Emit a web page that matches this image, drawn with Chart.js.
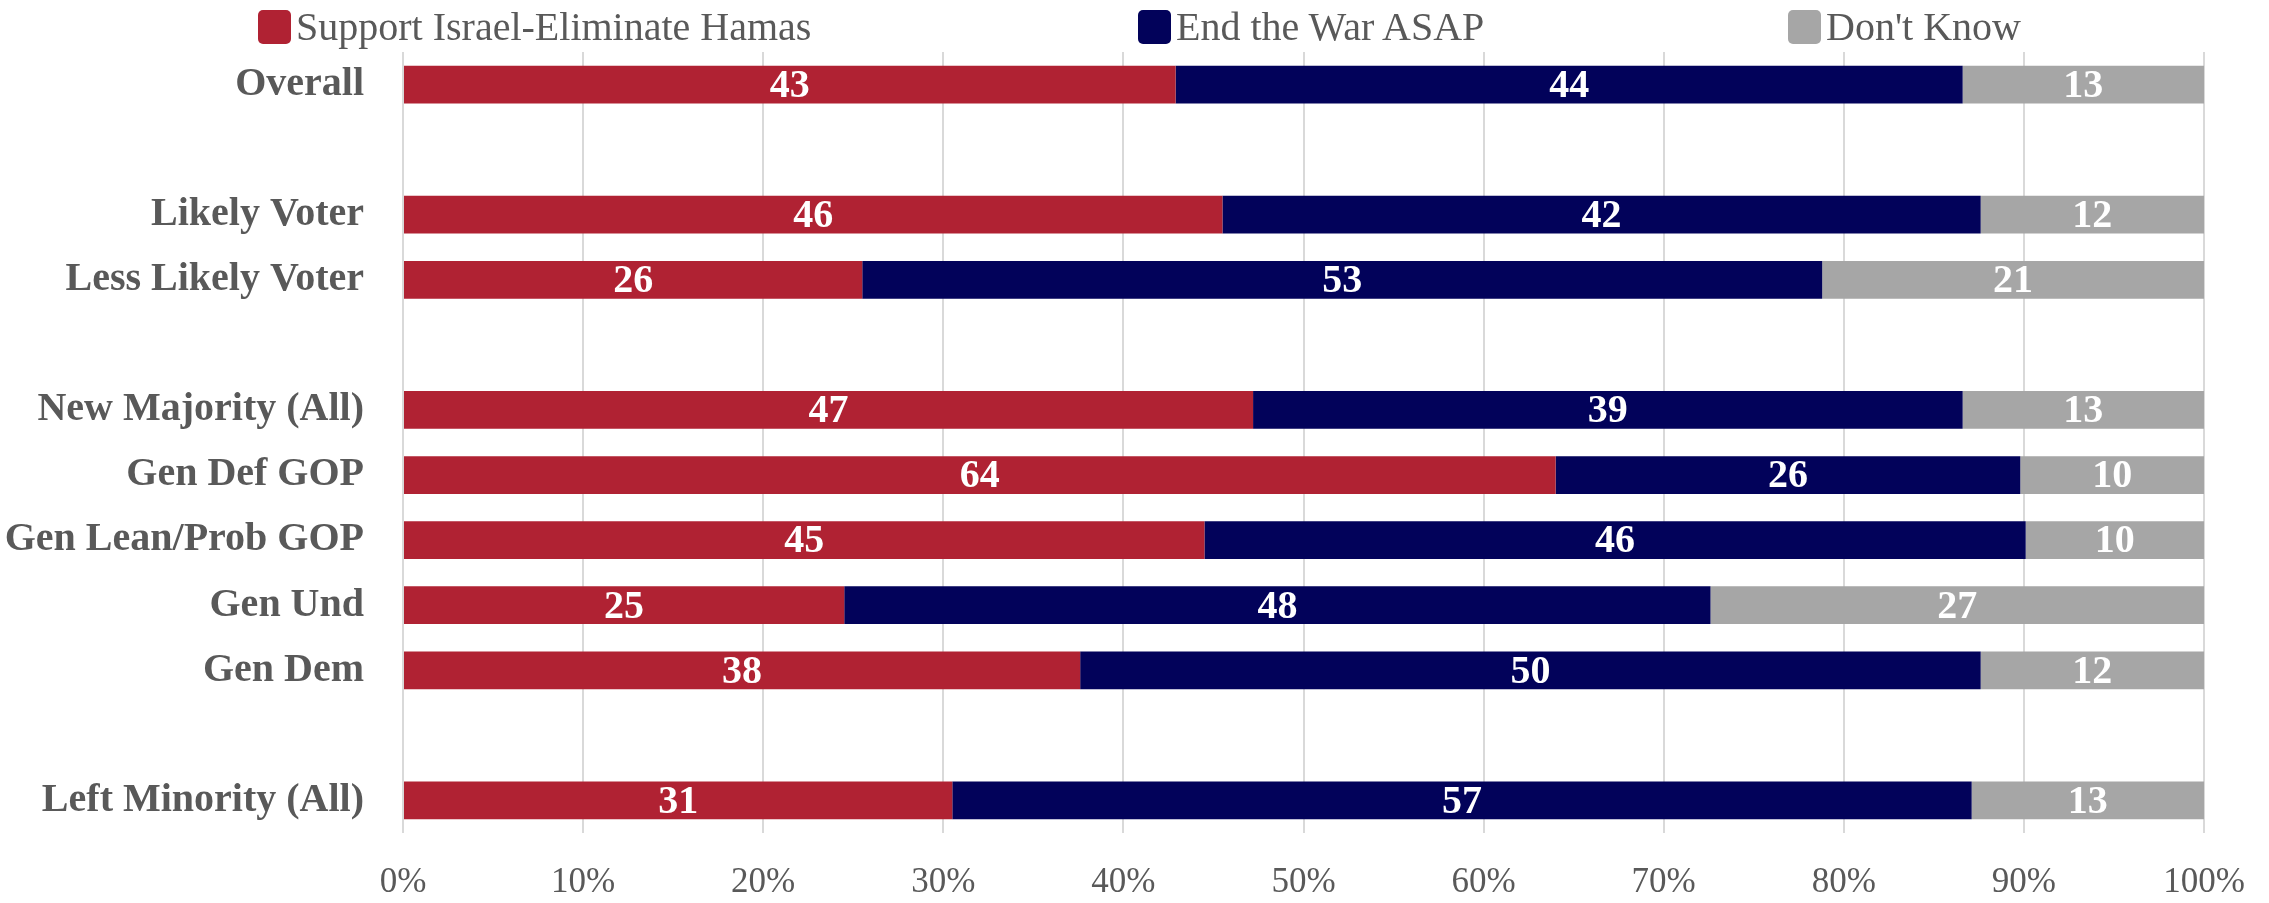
<!DOCTYPE html>
<html>
<head>
<meta charset="utf-8">
<script src="https://cdn.jsdelivr.net/npm/chart.js@4.4.1/dist/chart.umd.min.js"></script>
<style>
  html, body { margin: 0; padding: 0; background: #fff; }
  #wrap { position: relative; width: 2269px; height: 903px; }
  #reachChart { position: absolute; left: 0; top: 0; }
  .legend-item {
    position: absolute; top: 3px; display: flex; align-items: center;
    font-family: "Liberation Serif", serif; font-size: 40px; color: #595959;
  }
  .legend-box { width: 33px; height: 34px; border-radius: 5px; margin-right: 5px; }
</style>
</head>
<body>
<div id="wrap">
  <canvas id="reachChart" width="2269" height="903"></canvas>
  <div id="legend"></div>
</div>
<script>
  const categories = [
    'Overall', '', 'Likely Voter', 'Less Likely Voter', '',
    'New Majority (All)', 'Gen Def GOP', 'Gen Lean/Prob GOP', 'Gen Und', 'Gen Dem', '',
    'Left Minority (All)'
  ];

  const supportIsrael = [42.9, null, 45.5, 25.5, null, 47.2, 64.0, 44.5, 24.5, 37.6, null, 30.5];
  const endWar = [43.7, null, 42.1, 53.3, null, 39.4, 25.8, 45.6, 48.1, 50.0, null, 56.6];
  const dontKnow = [13.4, null, 12.4, 21.2, null, 13.4, 10.2, 9.9, 27.4, 12.4, null, 12.9];

  const seriesNames = ['Support Israel-Eliminate Hamas', 'End the War ASAP', "Don't Know"];
  const seriesColors = ['#B02233', '#02025A', '#A6A6A6'];
  const xTicks = [0, 10, 20, 30, 40, 50, 60, 70, 80, 90, 100];

  const legendLeft = [258, 1138, 1788];

  const FONT = '"Liberation Serif", serif';

  const legend = document.getElementById('legend');
  seriesNames.forEach((name, i) => {
    const item = document.createElement('div');
    item.className = 'legend-item';
    item.style.left = legendLeft[i] + 'px';
    item.innerHTML = `<span class="legend-box" style="background:${seriesColors[i]}"></span><span>${name}</span>`;
    legend.appendChild(item);
  });

  const valueLabels = {
    id: 'valueLabels',
    afterDatasetsDraw(chart) {
      const ctx = chart.ctx;
      ctx.save();
      ctx.font = `bold 40px ${FONT}`;
      ctx.fillStyle = '#FFFFFF';
      ctx.textAlign = 'center';
      ctx.textBaseline = 'middle';
      chart.data.datasets.forEach((ds, di) => {
        const meta = chart.getDatasetMeta(di);
        meta.data.forEach((bar, i) => {
          const v = ds.data[i];
          if (v === null || v === undefined) return;
          const p = bar.getCenterPoint();
          ctx.fillText(String(Math.round(v)), p.x, p.y + 2);
        });
      });
      ctx.restore();
    }
  };

  const datasets = [supportIsrael, endWar, dontKnow].map((data, i) => ({
    label: seriesNames[i],
    data,
    backgroundColor: seriesColors[i],
    borderWidth: 0,
    categoryPercentage: 1,
    barPercentage: 0.58
  }));

  new Chart(document.getElementById('reachChart').getContext('2d'), {
    type: 'bar',
    data: { labels: categories, datasets },
    plugins: [valueLabels],
    options: {
      indexAxis: 'y',
      responsive: false,
      animation: false,
      devicePixelRatio: 1,
      layout: { padding: { top: 52, right: 65, left: 0, bottom: 0 } },
      plugins: {
        legend: { display: false },
        tooltip: { enabled: false }
      },
      scales: {
        x: {
          stacked: true,
          min: 0,
          max: 100,
          afterBuildTicks(scale) {
            scale.ticks = xTicks.map(v => ({ value: v }));
          },
          afterFit(scale) {
            scale.height = 70;
            scale.paddingLeft = 0;
            scale.paddingRight = 0;
          },
          grid: { color: '#D9D9D9', lineWidth: 2, drawTicks: false },
          border: { display: false },
          ticks: {
            padding: 29,
            color: '#595959',
            font: { family: FONT, size: 35 },
            callback: v => v + '%'
          }
        },
        y: {
          stacked: true,
          afterFit(scale) {
            scale.width = 403;
            scale.paddingTop = 0;
            scale.paddingBottom = 0;
          },
          grid: { display: false, drawTicks: false },
          border: { display: false },
          ticks: {
            padding: 39,
            color: '#595959',
            font: { family: FONT, size: 40, weight: 'bold' },
            autoSkip: false
          }
        }
      }
    }
  });
</script>
</body>
</html>
